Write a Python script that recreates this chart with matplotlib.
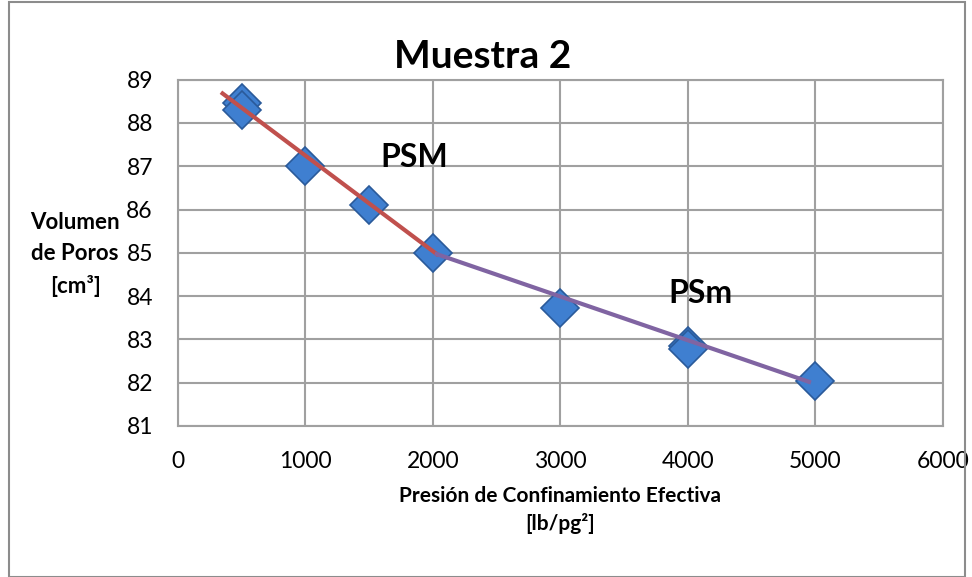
import matplotlib.pyplot as plt
from matplotlib.patches import Rectangle

plt.rcParams['font.family'] = ['Lato', 'DejaVu Sans']

# Muestra 2 - volumen de poros vs presion efectiva
presion = [500, 500, 1000, 1500, 2000, 3000, 4000, 4000, 5000]
volumen = [88.45, 88.3, 87.0, 86.1, 85.0, 83.72, 82.85, 82.78, 82.05]

# trend lines (endpoints)
psm_x = [350, 2030]
psm_y = [88.68, 84.97]
psm_min_x = [2030, 4950]
psm_min_y = [84.97, 82.02]

xticks = [0, 1000, 2000, 3000, 4000, 5000, 6000]
yticks = [81, 82, 83, 84, 85, 86, 87, 88, 89]

fig = plt.figure(figsize=(9.72, 5.77), dpi=100)
ax = fig.add_axes([0.1831, 0.2617, 0.7869, 0.6003])

ax.plot(presion, volumen, linestyle='none', marker='D', markersize=19,
        markerfacecolor='#3f7fd0', markeredgecolor='#2a5a9a', markeredgewidth=1.2, zorder=3)
ax.plot(psm_x, psm_y, color='#c0504d', linewidth=3, zorder=4)
ax.plot(psm_min_x, psm_min_y, color='#8064a2', linewidth=3, zorder=4)

ax.set_xlim(0, 6000)
ax.set_ylim(81, 89)
ax.set_xticks(xticks)
ax.set_yticks(yticks)
ax.grid(True, color='#a0a0a0', linewidth=1.5)
ax.set_axisbelow(True)
for s in ax.spines.values():
    s.set_color('#a0a0a0')
    s.set_linewidth(1.5)
ax.tick_params(length=0, labelsize=16.5)
ax.tick_params(axis='x', pad=18)
ax.tick_params(axis='y', pad=18)

ax.text(1850, 87.2, 'PSM', fontsize=23, fontweight='bold', ha='center', va='center')
ax.text(4100, 84.05, 'PSm', fontsize=23, fontweight='bold', ha='center', va='center')

fig.text(483 / 972, 1 - 56 / 577, 'Muestra 2', fontsize=28, fontweight='bold', ha='center', va='center')
fig.text(120 / 972, 1 - 254 / 577, 'Volumen\nde Poros\n[cm³]', fontsize=16, fontweight='bold',
         ha='right', va='center', multialignment='center', linespacing=1.6)
fig.text(560 / 972, 1 - 510 / 577, 'Presión de Confinamiento Efectiva\n[lb/pg²]', fontsize=15,
         fontweight='bold', ha='center', va='center', linespacing=1.45)

fig.patches.append(Rectangle((9 / 972, 0), 956 / 972, 575 / 577, transform=fig.transFigure,
                             fill=False, edgecolor='#8c8c8c', linewidth=1.5))

fig.savefig('out.png', dpi=100)
